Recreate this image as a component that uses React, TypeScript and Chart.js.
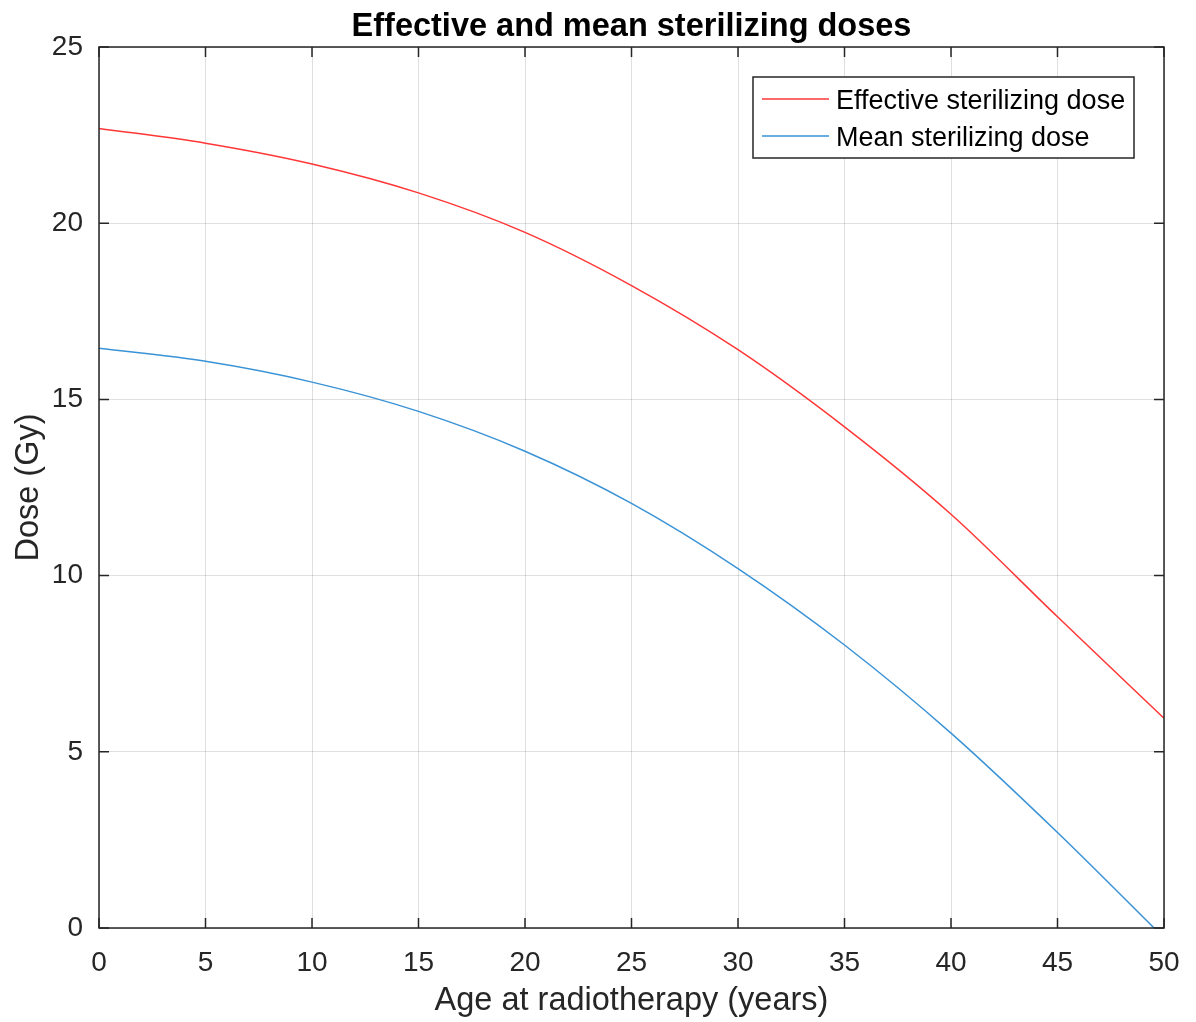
import React, { useEffect, useRef } from "react";
import { Chart, registerables } from "chart.js";

Chart.register(...registerables);

const ages = [0, 5, 10, 15, 20, 25, 30, 35, 40, 45, 50];
const effectiveDose = [22.69, 22.27, 21.68, 20.86, 19.74, 18.23, 16.41, 14.22, 11.74, 8.83, 5.95];
const meanDose = [16.45, 16.08, 15.49, 14.66, 13.53, 12.05, 10.2, 8.03, 5.53, 2.71, -0.28];
const seriesLabels = ["Effective sterilizing dose", "Mean sterilizing dose"];
const chartTitle = "Effective and mean sterilizing doses";
const xAxisTitle = "Age at radiotherapy (years)";
const yAxisTitle = "Dose (Gy)";
const xRange = [0, 50];
const yRange = [0, 25];
const tickStep = 5;

const FONT = "'Liberation Sans', Arial, Helvetica, sans-serif";
const AXIS = "#262626";
const RED = "#ff3636";
const BLUE = "#3a93d6";

const boxPlugin = {
  id: "matlabBox",
  afterDatasetsDraw(chart: any) {
    const { ctx, chartArea, scales } = chart;
    const { left, right, top, bottom } = chartArea;
    ctx.save();
    ctx.strokeStyle = AXIS;
    ctx.lineWidth = 1.5;
    ctx.strokeRect(left, top, right - left, bottom - top);
    const tl = 10;
    ctx.beginPath();
    scales.x.ticks.forEach((t: any) => {
      const px = scales.x.getPixelForValue(t.value);
      ctx.moveTo(px, bottom);
      ctx.lineTo(px, bottom - tl);
      ctx.moveTo(px, top);
      ctx.lineTo(px, top + tl);
    });
    scales.y.ticks.forEach((t: any) => {
      const py = scales.y.getPixelForValue(t.value);
      ctx.moveTo(left, py);
      ctx.lineTo(left + tl, py);
      ctx.moveTo(right, py);
      ctx.lineTo(right - tl, py);
    });
    ctx.stroke();

    // title
    ctx.fillStyle = "#000";
    ctx.font = `bold 32.5px ${FONT}`;
    ctx.textAlign = "center";
    ctx.textBaseline = "alphabetic";
    ctx.fillText(chartTitle, (left + right) / 2, 36);

    // legend
    const lx = 753, ly = 77, lw = 381, lh = 81;
    ctx.fillStyle = "#fff";
    ctx.fillRect(lx, ly, lw, lh);
    ctx.strokeStyle = AXIS;
    ctx.lineWidth = 1.5;
    ctx.strokeRect(lx, ly, lw, lh);
    const rows = [99, 136];
    chart.data.datasets.forEach((ds: any, i: number) => {
      ctx.strokeStyle = ds.borderColor;
      ctx.lineWidth = 1.5;
      ctx.beginPath();
      ctx.moveTo(762, rows[i]);
      ctx.lineTo(829, rows[i]);
      ctx.stroke();
      ctx.fillStyle = "#000";
      ctx.font = `27px ${FONT}`;
      ctx.textAlign = "left";
      ctx.textBaseline = "alphabetic";
      ctx.fillText(ds.label, 836, rows[i] + 9.5);
    });
    ctx.restore();
  },
};

export default function App() {
  const ref = useRef<HTMLCanvasElement>(null);
  useEffect(() => {
    document.body.style.margin = "0";
    const canvas = ref.current!;
    const chart = new Chart(canvas, {
      type: "line",
      data: {
        datasets: [
          {
            label: seriesLabels[0],
            data: ages.map((a, i) => ({ x: a, y: effectiveDose[i] })),
            borderColor: RED,
            backgroundColor: RED,
            borderWidth: 1.5,
            pointRadius: 0,
            cubicInterpolationMode: "monotone",
          },
          {
            label: seriesLabels[1],
            data: ages.map((a, i) => ({ x: a, y: meanDose[i] })),
            borderColor: BLUE,
            backgroundColor: BLUE,
            borderWidth: 1.5,
            pointRadius: 0,
            cubicInterpolationMode: "monotone",
          },
        ],
      },
      options: {
        responsive: false,
        animation: false,
        devicePixelRatio: 1,
        layout: { padding: { top: 47, right: 32, left: 0, bottom: 0 } },
        plugins: {
          legend: { display: false },
          title: { display: false },
          tooltip: { enabled: false },
        },
        scales: {
          x: {
            type: "linear",
            min: xRange[0],
            max: xRange[1],
            afterFit: (s: any) => {
              s.height = 94;
              s.paddingLeft = 0;
              s.paddingRight = 0;
            },
            ticks: {
              stepSize: tickStep,
              autoSkip: false,
              maxRotation: 0,
              padding: 18,
              color: AXIS,
              font: { family: FONT, size: 28 },
            },
            grid: { color: "rgba(38,38,38,0.15)", lineWidth: 1, drawTicks: false },
            border: { display: false },
            title: {
              display: true,
              text: xAxisTitle,
              color: AXIS,
              font: { family: FONT, size: 32.5 },
              padding: { top: 0, bottom: 1 },
            },
          },
          y: {
            type: "linear",
            min: yRange[0],
            max: yRange[1],
            afterFit: (s: any) => {
              s.width = 99;
              s.paddingTop = 0;
              s.paddingBottom = 0;
            },
            ticks: {
              stepSize: tickStep,
              padding: 16,
              color: AXIS,
              font: { family: FONT, size: 28 },
            },
            grid: { color: "rgba(38,38,38,0.15)", lineWidth: 1, drawTicks: false },
            border: { display: false },
            title: {
              display: true,
              text: yAxisTitle,
              color: AXIS,
              font: { family: FONT, size: 32.5 },
              padding: { top: 10, bottom: 0 },
            },
          },
        },
      },
      plugins: [boxPlugin],
    } as any);
    return () => chart.destroy();
  }, []);
  return (
    <div style={{ width: 1196, height: 1022, background: "#fff" }}>
      <canvas ref={ref} width={1196} height={1022} style={{ display: "block" }} />
    </div>
  );
}
